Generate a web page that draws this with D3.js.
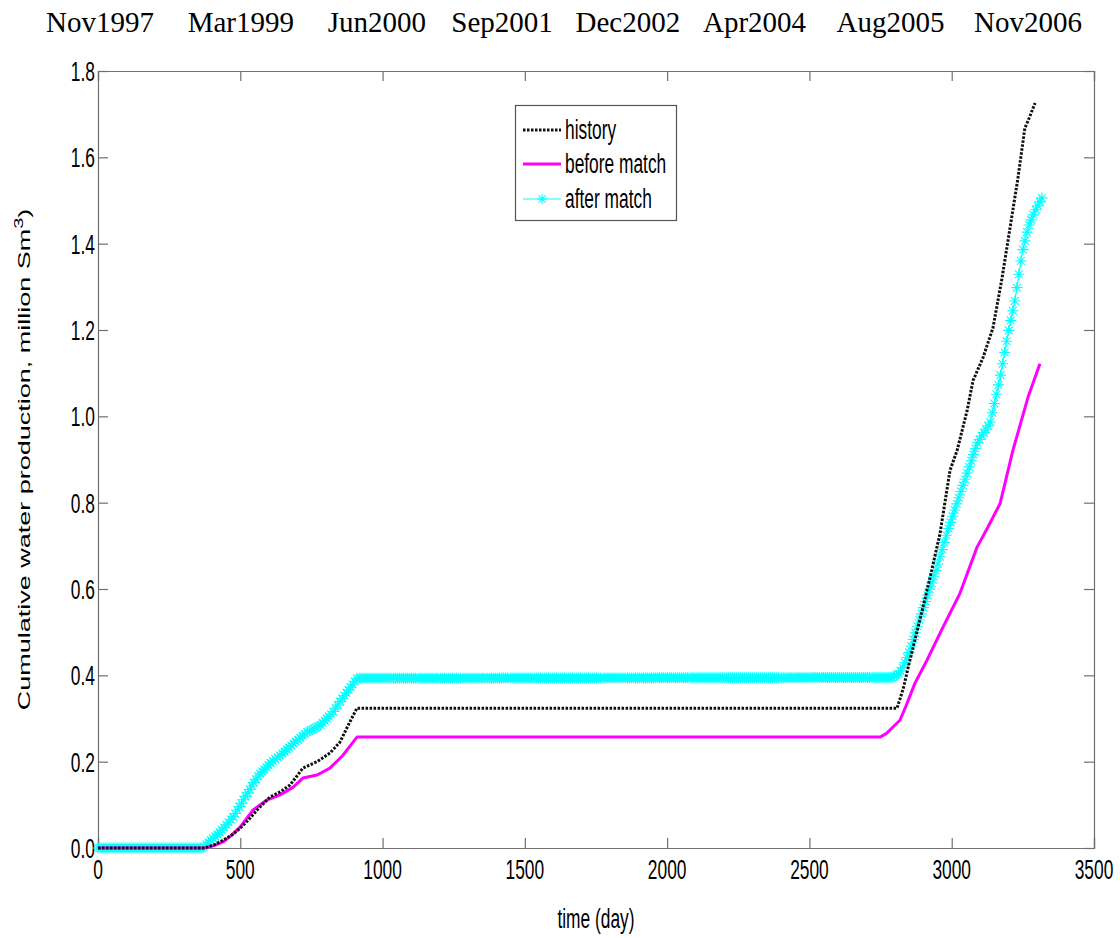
<!DOCTYPE html>
<html>
<head>
<meta charset="utf-8">
<script src="https://cdn.jsdelivr.net/npm/d3@7/dist/d3.min.js"></script>
<style>
  html, body { margin: 0; padding: 0; background: #fff; }
  svg { display: block; }
</style>
</head>
<body>
<svg id="chart" width="1120" height="938"></svg>
<script>
// Cumulative water production: observed history vs. simulation before / after history matching
const historyDays = [0, 376, 410, 440, 470, 500, 530, 559, 604, 640, 675, 720, 770, 815, 850, 885, 910,
  2808, 2830, 2853, 2888, 2924, 2959, 2994, 3019, 3054, 3075, 3110, 3145, 3177, 3205, 3233, 3257, 3268, 3293];
const historyValues = [0, 0, 0.008, 0.018, 0.03, 0.046, 0.066, 0.088, 0.118, 0.13, 0.146, 0.185, 0.2, 0.22, 0.245, 0.292, 0.324,
  0.324, 0.37, 0.435, 0.528, 0.627, 0.729, 0.875, 0.921, 1.013, 1.083, 1.136, 1.205, 1.321, 1.437, 1.553, 1.668, 1.684, 1.726];

const beforeDays = [0, 376, 410, 440, 470, 500, 545, 593, 640, 686, 720, 770, 815, 861, 910,
  2748, 2770, 2790, 2818, 2840, 2871, 2913, 2969, 3029, 3089, 3127, 3170, 3215, 3268, 3310];
const beforeValues = [0, 0, 0.006, 0.014, 0.03, 0.049, 0.088, 0.111, 0.123, 0.141, 0.162, 0.169, 0.185, 0.215, 0.257,
  0.257, 0.265, 0.278, 0.296, 0.33, 0.382, 0.435, 0.511, 0.59, 0.697, 0.743, 0.798, 0.921, 1.044, 1.122];

const afterDays = [0, 370, 383, 429, 475, 517, 559, 604, 650, 692, 734, 780, 822, 861, 910,
  2794, 2815, 2829, 2853, 2878, 2913, 2948, 2983, 3019, 3054, 3089, 3124, 3134, 3170, 3198, 3222, 3247, 3268, 3293, 3317];
const afterValues = [0, 0, 0.01, 0.037, 0.072, 0.118, 0.164, 0.196, 0.22, 0.245, 0.268, 0.284, 0.312, 0.349, 0.393,
  0.395, 0.405, 0.419, 0.458, 0.511, 0.581, 0.65, 0.729, 0.80, 0.868, 0.937, 0.974, 0.983, 1.09, 1.192, 1.268, 1.377, 1.437, 1.476, 1.506];

const xTicks = [0, 500, 1000, 1500, 2000, 2500, 3000, 3500];
const yTicks = [0, 0.2, 0.4, 0.6, 0.8, 1.0, 1.2, 1.4, 1.6, 1.8];

// calendar labels along the top, with the day each one sits over
const dateLabels = ["Nov1997", "Mar1999", "Jun2000", "Sep2001", "Dec2002", "Apr2004", "Aug2005", "Nov2006"];
const dateDays = [7, 502, 980, 1420, 1862, 2307, 2785, 3268];

const legendLabels = ["history", "before match", "after match"];

(function draw() {
  const svg = d3.select("#chart");
  const margin = { left: 98, top: 71, right: 26, bottom: 90 };
  const W = 1120, H = 938;
  const x = d3.scaleLinear().domain([0, 3500]).range([margin.left, W - margin.right]);
  const y = d3.scaleLinear().domain([0, 1.8]).range([H - margin.bottom, margin.top]);

  const SX = 0.62;           // narrow rendering of the axis font
  const AXIS_FONT = "'Liberation Sans', Arial, sans-serif";
  const AXIS_COLOR = "#707070";

  // top date annotations
  svg.append("g").selectAll("text").data(dateLabels).join("text")
    .attr("x", (d, i) => x(dateDays[i]))
    .attr("y", 32)
    .attr("text-anchor", "middle")
    .style("font-family", "'Liberation Serif', 'Times New Roman', serif")
    .style("font-size", "29px")
    .attr("fill", "#000")
    .text(d => d);

  // axes box with inward ticks
  const x0 = x(0), x1 = x(3500), y0 = y(0), y1 = y(1.8);
  const tickLen = 10;

  const axBottom = svg.append("g").attr("transform", `translate(0,${y0})`)
    .call(d3.axisBottom(x).tickValues(xTicks).tickSize(-tickLen).tickFormat(""));
  const axTop = svg.append("g").attr("transform", `translate(0,${y1})`)
    .call(d3.axisTop(x).tickValues(xTicks).tickSize(-tickLen).tickFormat(""));
  const axLeft = svg.append("g").attr("transform", `translate(${x0},0)`)
    .call(d3.axisLeft(y).tickValues(yTicks).tickSize(-tickLen).tickFormat(""));
  const axRight = svg.append("g").attr("transform", `translate(${x1},0)`)
    .call(d3.axisRight(y).tickValues(yTicks).tickSize(-tickLen).tickFormat(""));
  [axBottom, axTop, axLeft, axRight].forEach(g => {
    g.selectAll("path.domain").attr("stroke", AXIS_COLOR).attr("stroke-width", 1.2);
    g.selectAll(".tick line").attr("stroke", AXIS_COLOR).attr("stroke-width", 1.2);
  });

  // tick labels
  const fmtY = d3.format(".1f");
  svg.append("g").selectAll("text").data(xTicks).join("text")
    .attr("transform", d => `translate(${x(d)},${y0 + 31}) scale(${SX},1)`)
    .attr("text-anchor", "middle")
    .style("font-family", AXIS_FONT).style("font-size", "28px")
    .text(d => d);
  svg.append("g").selectAll("text").data(yTicks).join("text")
    .attr("transform", d => `translate(${x0 - 3},${y(d) + 10}) scale(${SX},1)`)
    .attr("text-anchor", "end")
    .style("font-family", AXIS_FONT).style("font-size", "28px")
    .text(d => fmtY(d));

  // axis titles
  svg.append("text")
    .attr("transform", `translate(${(x0 + x1) / 2},${H - 10}) scale(${SX},1)`)
    .attr("text-anchor", "middle")
    .style("font-family", AXIS_FONT).style("font-size", "28px")
    .text("time (day)");

  const yTitle = svg.append("text")
    .attr("transform", `translate(30,${(y0 + y1) / 2}) scale(${SX},1) rotate(-90)`)
    .attr("text-anchor", "middle")
    .style("font-family", AXIS_FONT).style("font-size", "27px");
  yTitle.append("tspan").text("Cumulative water production, million Sm");
  yTitle.append("tspan").attr("dy", -11).style("font-size", "20px").text("3");
  yTitle.append("tspan").attr("dy", 11).text(")");

  // series
  const line = d3.line().x(d => x(d[0])).y(d => y(d[1]));
  const zip = (a, b) => a.map((v, i) => [v, b[i]]);

  const historyData = zip(historyDays, historyValues);
  const beforeData = zip(beforeDays, beforeValues);
  const afterData = zip(afterDays, afterValues);

  const plot = svg.append("g");

  // after match: cyan line with star markers
  const afterPath = plot.append("path").datum(afterData)
    .attr("d", line).attr("fill", "none")
    .attr("stroke", "#00ffff").attr("stroke-width", 1.2);

  function starPath(s) {
    const a = s * 0.7071;
    return `M${-s},0L${s},0M0,${-s}L0,${s}M${-a},${-a}L${a},${a}M${-a},${a}L${a},${-a}`;
  }

  // star glyphs set along the drawn cyan line at a steady horizontal pace
  const node = afterPath.node();
  const total = node.getTotalLength();
  const stars = [];
  let lastX = -Infinity;
  for (let l = 0; l <= total; l += 0.5) {
    const p = node.getPointAtLength(l);
    if (p.x - lastX >= 2) { stars.push([p.x, p.y]); lastX = p.x; }
  }
  const endP = node.getPointAtLength(total);
  stars.push([endP.x, endP.y]);
  plot.append("g").selectAll("path").data(stars).join("path")
    .attr("transform", d => `translate(${d[0]},${d[1]})`)
    .attr("d", starPath(5.5))
    .attr("fill", "none").attr("stroke", "#00ffff").attr("stroke-width", 1.1);

  // before match: magenta solid
  plot.append("path").datum(beforeData)
    .attr("d", line).attr("fill", "none")
    .attr("stroke", "#ff00ff").attr("stroke-width", 3)
    .attr("stroke-linejoin", "round");

  // history: black dotted
  plot.append("path").datum(historyData)
    .attr("d", line).attr("fill", "none")
    .attr("stroke", "#111").attr("stroke-width", 3)
    .attr("stroke-dasharray", "2.5,1.5");

  // legend
  const lg = svg.append("g");
  lg.append("rect")
    .attr("x", 515.5).attr("y", 105.5).attr("width", 161).attr("height", 115)
    .attr("fill", "#fff").attr("stroke", "#555").attr("stroke-width", 1.2);
  const legendY = [130, 164, 199];
  const legendStyles = [
    { stroke: "#111", width: 3, dash: "2.5,1.5" },
    { stroke: "#ff00ff", width: 3, dash: null },
    { stroke: "#00ffff", width: 1.2, dash: null }
  ];
  legendLabels.forEach((lab, i) => {
    const ly = legendY[i];
    lg.append("line").attr("x1", 523).attr("x2", 561).attr("y1", ly).attr("y2", ly)
      .attr("stroke", legendStyles[i].stroke).attr("stroke-width", legendStyles[i].width)
      .attr("stroke-dasharray", legendStyles[i].dash);
    if (i === 2) {
      lg.append("path").attr("transform", `translate(542,${ly})`).attr("d", starPath(5))
        .attr("fill", "none").attr("stroke", "#00ffff").attr("stroke-width", 1.1);
    }
    lg.append("text")
      .attr("transform", `translate(565,${ly + 9}) scale(${SX},1)`)
      .style("font-family", AXIS_FONT).style("font-size", "28px")
      .text(lab);
  });
})();
</script>
</body>
</html>
